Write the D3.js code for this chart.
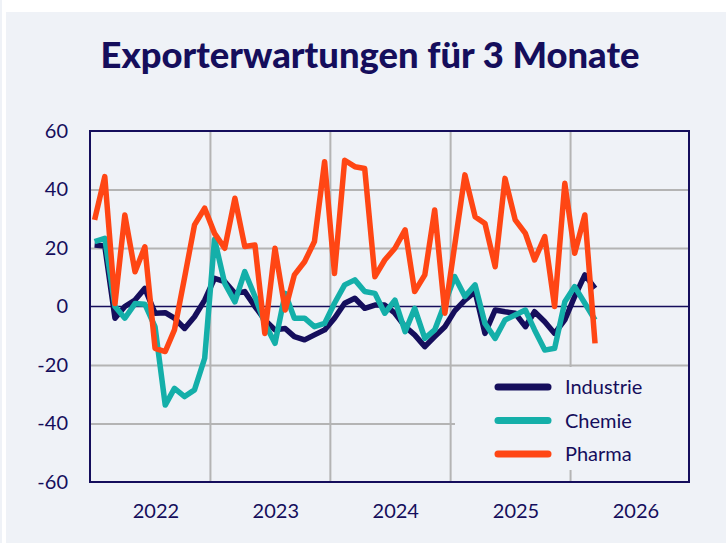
<!DOCTYPE html>
<html>
<head>
<meta charset="utf-8">
<script src="https://cdn.jsdelivr.net/npm/d3@7"></script>
<style>
body{margin:0;background:#fff;font-family:Lato,"Noto Sans",sans-serif;}
svg{display:block;}
</style>
</head>
<body>
<svg id="chart" width="726" height="543"></svg>
<script>
// monthly values, Jul 2021 - Sep 2025
var startMonth = new Date(2021,6,1);
var industrie = [21,20.7,-4,0,2.2,6.2,-2.3,-2.1,-4,-7.5,-3.5,2.2,
    9.6,8.5,4.5,5.1,0,-4.6,-8,-7.5,-10.3,-11.4,-9.7,-8,
    -4,1.1,2.8,-0.6,0.5,0.5,-2.3,-6.9,-9.7,-13.7,-10.3,-6.9,
    -1.5,2.2,5.1,-9.2,-1.2,-1.8,-2.3,-6.9,-1.8,-5.2,-9.2,-4.6,
    3.4,10.8,6.2];
var chemie = [22.2,23.3,0,-4,1,0.8,-7,-33.7,-28,-30.8,-28.5,-17.7,
    23,7.9,1.6,11.9,3.4,-5.8,-12.6,4.5,-4,-4,-6.9,-5.8,
    1.1,7.4,9.1,5.1,4.5,-2.3,2.2,-8.6,-0.6,-10.9,-8,1.1,
    10.2,3.4,7.4,-5.8,-10.9,-4.6,-2.9,-1.2,-8,-14.9,-14.3,1.6,
    6.8,1.1,-4.6];
var pharma = [29.6,44.4,1,31.3,11.9,20.4,-14.3,-15.4,-8,10,27.9,33.6,
    25,19.9,37,20.5,21,-9.2,19.9,-1.2,10.8,15.3,22.2,49.5,
    11.3,50,47.8,47.2,10.2,15.9,19.9,26.2,5.1,10.8,33,-2.3,
    21,45,30.7,28.4,13.6,43.8,29.6,25,15.9,23.9,0,42.1,
    18.2,31.3,-12.6];
var seriesNames = ["Industrie","Chemie","Pharma"];
var seriesColors = ["#150e5c","#14afa9","#ff4614"];
var yTicks = [-60,-40,-20,0,20,40,60];
var yearLabels = [2022,2023,2024,2025,2026];

var navy="#150e5c", grid="#b4b4b4", panel="#eff2f7";
var svg=d3.select("#chart");

// background
svg.append("rect").attr("x",0).attr("y",0).attr("width",2).attr("height",543).style("fill",panel)
svg.append("rect").attr("x",6).attr("y",12).attr("width",720).attr("height",531).style("fill",panel)

svg.append("text").attr("x",370).attr("y",68).attr("text-anchor","middle")
    .attr("textLength",539).attr("lengthAdjust","spacingAndGlyphs")
    .style("font-size","36px").style("font-weight","900").style("fill",navy)
    .text("Exporterwartungen für 3 Monate")

var x=d3.scaleTime().domain([startMonth,new Date(2026,6,1)]).range([90,690]);
var y=d3.scaleLinear().domain([-60,60]).range([482,131]);

var dates=industrie.map(function(d,i){return new Date(2021,6+i,15)});

// grid
var yGrid=d3.axisLeft(y).tickValues([-40,-20,20,40]).tickSize(-600).tickFormat("");
svg.append("g").attr("transform","translate(90,0)").call(yGrid)
    .call(function(g){g.select(".domain").remove();g.selectAll("line").style("stroke",grid).style("stroke-width",2)})
var xGrid=d3.axisBottom(x).tickValues([2022,2023,2024,2025].map(function(yy){return new Date(yy,6,1)})).tickSize(-351).tickFormat("");
svg.append("g").attr("transform","translate(0,482)").call(xGrid)
    .call(function(g){g.select(".domain").remove();g.selectAll("line").style("stroke",grid).style("stroke-width",2)})

// zero line
svg.append("line").attr("x1",90).attr("x2",690).attr("y1",y(0)).attr("y2",y(0)).style("stroke",navy).style("stroke-width",1.5)

// y labels, plain hyphen like the original
var yAxis=d3.axisLeft(y).tickValues(yTicks).tickSize(0).tickPadding(22).tickFormat(function(d){return String(d)});
svg.append("g").attr("transform","translate(90,0)").call(yAxis)
    .call(function(g){g.select(".domain").remove();g.selectAll("text").style("font-size","20px").style("font-family","Lato").style("fill",navy)})

// x labels (mid January)
var xAxis=d3.axisBottom(x).tickValues(yearLabels.map(function(yy){return new Date(yy,0,16)})).tickSize(0).tickPadding(22).tickFormat(d3.timeFormat("%Y"));
svg.append("g").attr("transform","translate(0,482)").call(xAxis)
    .call(function(g){g.select(".domain").remove();g.selectAll("text").style("font-size","20px").style("font-family","Lato").style("fill",navy)})

// lines
var line=d3.line().x(function(d,i){return x(dates[i])}).y(function(d){return y(d)});
[industrie,chemie,pharma].forEach(function(s,k){
    svg.append("path").datum(s).attr("d",line)
        .style("fill","none").style("stroke",seriesColors[k]).style("stroke-width",5.5).style("stroke-linejoin","round")
})

// legend box hides grid behind it
svg.append("rect").attr("x",455).attr("y",367).attr("width",233).attr("height",103).style("fill",panel)
seriesNames.forEach(function(n,k){
    var ly=387+k*33.5;
    svg.append("line").attr("x1",498).attr("x2",548).attr("y1",ly).attr("y2",ly)
        .style("stroke",seriesColors[k]).style("stroke-width",7).style("stroke-linecap","round")
    svg.append("text").attr("x",565).attr("y",ly).attr("dy","0.35em")
        .style("font-size","20px").style("fill",navy).text(n)
})

// frame
svg.append("rect").attr("x",90).attr("y",131).attr("width",599).attr("height",351)
    .style("fill","none").style("stroke",navy).style("stroke-width",2)
</script>
</body>
</html>
